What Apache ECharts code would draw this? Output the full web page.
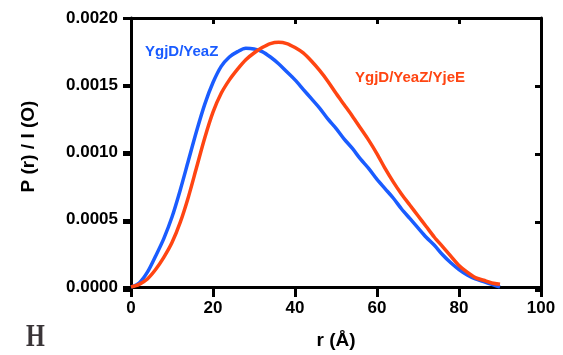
<!DOCTYPE html>
<html>
<head>
<meta charset="utf-8">
<script src="https://cdn.jsdelivr.net/npm/echarts@6/dist/echarts.min.js"></script>
<style>html,body{margin:0;padding:0;background:#fff}#c{width:563px;height:355px}</style>
</head>
<body>
<div id="c"></div>
<script>
const r = [0,2,4,6,8,10,12,14,16,18,20,22,24,26,28,30,32,34,36,38,40,42,44,46,48,50,52,54,56,58,60,62,64,66,68,70,72,74,76,78,80,82,84,86,88,90];
const ygjdYeaZ = [0,0.00003,0.00011,0.00023,0.00036,0.00052,0.00072,0.00094,0.00116,0.00136,0.00152,0.00164,0.00171,0.00175,0.001775,0.00177,0.00175,0.00171,0.00166,0.00160,0.00154,0.00147,0.00140,0.00133,0.00125,0.00118,0.00110,0.00103,0.00095,0.00088,0.00080,0.00073,0.00066,0.00058,0.00051,0.00044,0.00037,0.00031,0.00024,0.00018,0.00013,0.00009,0.00006,0.00004,0.00002,0.0];
const ygjdYeaZYjeE = [0,0.00002,0.00006,0.00013,0.00022,0.00033,0.00048,0.00067,0.00089,0.00111,0.00130,0.00144,0.00154,0.00162,0.00169,0.00174,0.00178,0.00181,0.00182,0.00181,0.00178,0.00174,0.00168,0.00161,0.00153,0.00144,0.001355,0.00127,0.00118,0.00109,0.00099,0.00088,0.00078,0.00069,0.00061,0.00053,0.00045,0.00037,0.00030,0.00023,0.00016,0.00011,0.00007,0.00005,0.00003,0.00002];
const xTicks = [0,20,40,60,80,100];
const yTicks = ['0.0000','0.0005','0.0010','0.0015','0.0020'];
const seriesNames = ['YgjD/YeaZ','YgjD/YeaZ/YjeE'];
const colors = ['#1a5cff','#ff4512'];

const font = 'Liberation Sans, Arial, sans-serif';
const chart = echarts.init(document.getElementById('c'));
const al = ()=>({show:true, onZero:false, lineStyle:{color:'#000', width:3}});
const tk = ()=>({show:true, length:8, lineStyle:{color:'#000', width:3}});
// tick strips: thin grids whose split lines act as the tick marks
const tickSplit = ()=>({show:true, lineStyle:{color:'#000', width:3}});
const stripX = (gi)=>({gridIndex:gi, type:'value', min:0, max:100, interval:20,
  axisLine:{show:false}, axisTick:{show:false}, axisLabel:{show:false}, splitLine:tickSplit()});
const stripY = (gi)=>({gridIndex:gi, type:'value', min:0, max:0.002, interval:0.0005,
  axisLine:{show:false}, axisTick:{show:false}, axisLabel:{show:false}, splitLine:tickSplit()});
const hidX = (gi)=>({gridIndex:gi, type:'value', min:0, max:1, show:false});
const hidY = (gi)=>({gridIndex:gi, type:'value', min:0, max:1, show:false});

chart.setOption({
  animation:false,
  grid:[
    {left:131, right:22, top:18, bottom:65},
    {left:131, right:22, top:290, height:7},
    {left:123, width:8, top:18, bottom:65},
    {left:131, right:22, top:18, height:6},
    {left:535, width:6, top:18, bottom:65}
  ],
  xAxis:[{
    gridIndex:0, type:'value', min:0, max:100, interval:20,
    axisLine: al(), axisTick: tk(),
    splitLine:{show:false},
    axisLabel:{color:'#000', fontFamily:font, fontWeight:'bold', fontSize:17, margin:13,
      formatter:(v)=>String(xTicks[Math.round(v/20)])},
    name:'r (Å)', nameLocation:'middle', nameGap:44,
    nameTextStyle:{color:'#000', fontFamily:font, fontWeight:'bold', fontSize:19}
  },{
    gridIndex:0, type:'value', min:0, max:100, interval:20, position:'top',
    axisLine: al(), axisTick:{show:false},
    splitLine:{show:false}, axisLabel:{show:false}
  },
  stripX(1), hidX(2), stripX(3), hidX(4)],
  yAxis:[{
    gridIndex:0, type:'value', min:0, max:0.002, interval:0.0005,
    axisLine: al(), axisTick: tk(),
    splitLine:{show:false},
    axisLabel:{color:'#000', fontFamily:font, fontWeight:'bold', fontSize:17, margin:13,
      formatter:(v)=>yTicks[Math.round(v/0.0005)]},
    name:'P (r) / I (O)', nameLocation:'middle', nameGap:93,
    nameTextStyle:{color:'#000', fontFamily:font, fontWeight:'bold', fontSize:19, padding:[0,0,0,12]}
  },{
    gridIndex:0, type:'value', min:0, max:0.002, interval:0.0005, position:'right',
    axisLine: al(), axisTick:{show:false},
    splitLine:{show:false}, axisLabel:{show:false}
  },
  hidY(1), stripY(2), hidY(3), stripY(4)],
  series:[0,1].map(i=>({
    name:seriesNames[i], type:'line', smooth:0.3, showSymbol:false, xAxisIndex:0, yAxisIndex:0,
    data:r.map((x,k)=>[x,(i===0?ygjdYeaZ:ygjdYeaZYjeE)[k]]),
    lineStyle:{color:colors[i], width:3.5}
  })),
  graphic:[
    {type:'text', left:145, top:44, style:{text:seriesNames[0], fill:colors[0], font:'bold 15px '+font}},
    {type:'text', left:355, top:70, style:{text:seriesNames[1], fill:colors[1], font:'bold 15px '+font}},
    {type:'text', x:26, y:322, scaleX:0.78, style:{text:'H', fill:'#3a3538', font:'bold 31px Liberation Serif, DejaVu Serif, serif'}}
  ]
});
</script>
</body>
</html>
